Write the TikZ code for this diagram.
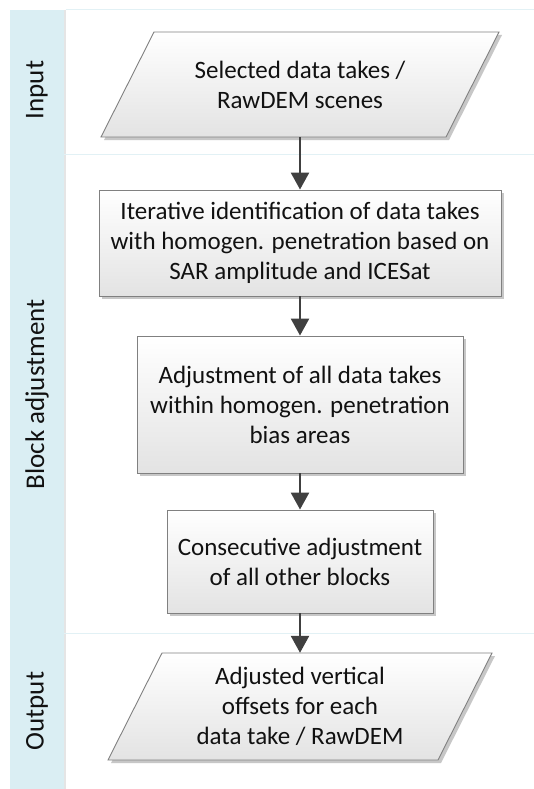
\documentclass[tikz,border=0pt]{standalone}
\usepackage{fontspec}
\setmainfont{Carlito}
\usetikzlibrary{arrows.meta,shadows}
\definecolor{lane}{HTML}{DAEEF3}
\definecolor{laneline}{HTML}{E2F1F5}
\definecolor{arrowc}{HTML}{404040}
\definecolor{txt}{HTML}{111111}
\definecolor{boxborder}{HTML}{808080}
\tikzset{
  mainfont/.style={font=\fontsize{25}{30}\selectfont},
  shadowed/.style={drop shadow={shadow xshift=3pt, shadow yshift=-3pt, fill=black!22, opacity=1}},
  stepbox/.style={rectangle, draw=boxborder, line width=0.9pt, top color=white, bottom color=black!11,
    shadowed, align=center, mainfont, text=txt, inner sep=0pt},
  iotext/.style={rectangle, align=center, mainfont, text=txt, inner sep=0pt},
  ioshape/.style={draw=boxborder, line width=0.9pt, top color=white, bottom color=black!11, shadowed},
  flow/.style={draw=arrowc, line width=2.5pt, -{Triangle[length=17pt,width=18pt]}},
  lanelabel/.style={rotate=90, font=\fontsize{27}{30}\selectfont, text=txt, inner sep=0pt},
  sepline/.style={draw=laneline, line width=1pt},
}
\begin{document}
\begin{tikzpicture}[x=1pt,y=-1pt]
\useasboundingbox (0,0) rectangle (534,789);
\fill[white] (0,0) rectangle (534,789);
% lanes
\fill[lane] (10,10) rectangle (64,789);
\draw[black!10, line width=2pt] (65,10) -- (65,789);
\path[sepline] (66,10) -- (534,10);
\path[sepline] (64,154) -- (534,154);
\path[sepline] (64,633) -- (534,633);
\node[lanelabel] (lin) at (37,90) {Input};
\node[lanelabel] (lblock) at (37,394.5) {Block adjustment};
\node[lanelabel] (lout) at (37,711) {Output};
% input parallelogram
\path[ioshape] (154,32) -- (499,32) -- (446,137) -- (101,137) -- cycle;
\node[iotext, minimum width=398pt, minimum height=105pt] (p1) at (300,84.5)
  {Selected data takes /\\RawDEM scenes};
% process boxes
\node[stepbox, minimum width=402pt, minimum height=106pt] (b2) at (300,243)
  {Iterative identification of data takes\\with homogen. penetration based on\\SAR amplitude and ICESat};
\node[stepbox, minimum width=326pt, minimum height=137pt] (b3) at (300,404.5)
  {Adjustment of all data takes\\within homogen. penetration\\bias areas};
\node[stepbox, minimum width=266pt, minimum height=103pt] (b4) at (300,561.5)
  {Consecutive adjustment\\of all other blocks};
% output parallelogram
\path[ioshape] (162,653) -- (492,653) -- (438,760) -- (108,760) -- cycle;
\node[iotext, minimum width=384pt, minimum height=107pt] (p2) at (300,706.5)
  {Adjusted vertical\\offsets for each\\data take / RawDEM};
% connectors
\draw[flow] (p1.south) -- (b2.north);
\draw[flow] (b2.south) -- (b3.north);
\draw[flow] (b3.south) -- (b4.north);
\draw[flow] (b4.south) -- (p2.north);
\end{tikzpicture}
\end{document}
